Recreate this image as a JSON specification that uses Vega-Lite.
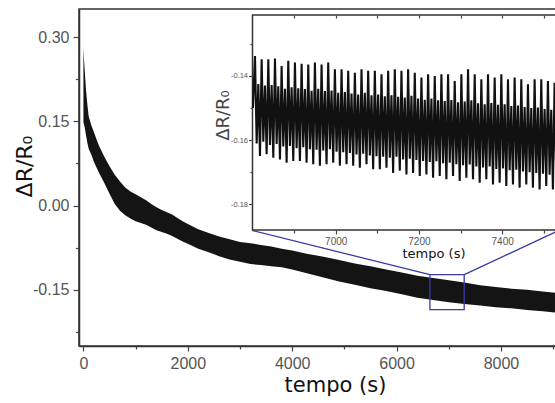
{
"$schema":"https://vega.github.io/schema/vega-lite/v6.json",
"width":477,"height":337,
"autosize":{"type":"none"},
"padding":{"left":79,"top":9,"right":0,"bottom":57},
"background":"white",
"config":{
 "view":{"stroke":"#333","strokeWidth":1.5},
 "axis":{"grid":false,"domainColor":"#333","domainWidth":1.5,"tickColor":"#444","tickWidth":1.2,"labelFont":"Liberation Sans","labelColor":"#555","titleFont":"DejaVu Sans","titleFontWeight":"normal","titleColor":"#111"}
},
"datasets":{
 "main":[
  {"t":0,"hi":0.282,"lo":0.148},{"t":10,"hi":0.262,"lo":0.145},{"t":25,"hi":0.240,"lo":0.139},{"t":50,"hi":0.205,"lo":0.125},{"t":75,"hi":0.180,"lo":0.112},{"t":100,"hi":0.159,"lo":0.101},{"t":150,"hi":0.143,"lo":0.091},{"t":200,"hi":0.131,"lo":0.078},{"t":250,"hi":0.118,"lo":0.068},{"t":300,"hi":0.106,"lo":0.058},{"t":400,"hi":0.087,"lo":0.040},{"t":500,"hi":0.070,"lo":0.021},{"t":600,"hi":0.055,"lo":0.003},{"t":700,"hi":0.043,"lo":-0.009},{"t":800,"hi":0.032,"lo":-0.017},{"t":900,"hi":0.025,"lo":-0.023},{"t":1000,"hi":0.020,"lo":-0.028},{"t":1100,"hi":0.015,"lo":-0.031},{"t":1200,"hi":0.0095,"lo":-0.034},{"t":1300,"hi":0.003,"lo":-0.039},{"t":1400,"hi":-0.003,"lo":-0.044},{"t":1500,"hi":-0.008,"lo":-0.047},{"t":1600,"hi":-0.012,"lo":-0.050},{"t":1700,"hi":-0.016,"lo":-0.054},{"t":1800,"hi":-0.022,"lo":-0.059},{"t":1900,"hi":-0.028,"lo":-0.064},{"t":2000,"hi":-0.033,"lo":-0.068},{"t":2200,"hi":-0.042,"lo":-0.077},{"t":2400,"hi":-0.049,"lo":-0.083},{"t":2600,"hi":-0.055,"lo":-0.090},{"t":2800,"hi":-0.060,"lo":-0.096},{"t":3000,"hi":-0.065,"lo":-0.100},{"t":3200,"hi":-0.067,"lo":-0.104},{"t":3400,"hi":-0.070,"lo":-0.106},{"t":3600,"hi":-0.073,"lo":-0.108},{"t":3800,"hi":-0.077,"lo":-0.110},{"t":4000,"hi":-0.080,"lo":-0.114},{"t":4300,"hi":-0.086,"lo":-0.121},{"t":4600,"hi":-0.091,"lo":-0.128},{"t":4900,"hi":-0.097,"lo":-0.135},{"t":5200,"hi":-0.103,"lo":-0.141},{"t":5500,"hi":-0.108,"lo":-0.147},{"t":5800,"hi":-0.114,"lo":-0.152},{"t":6100,"hi":-0.119,"lo":-0.158},{"t":6400,"hi":-0.125,"lo":-0.164},{"t":6700,"hi":-0.129,"lo":-0.168},{"t":7000,"hi":-0.133,"lo":-0.172},{"t":7300,"hi":-0.137,"lo":-0.175},{"t":7600,"hi":-0.142,"lo":-0.178},{"t":7900,"hi":-0.145,"lo":-0.181},{"t":8200,"hi":-0.148,"lo":-0.183},{"t":8500,"hi":-0.150,"lo":-0.186},{"t":8800,"hi":-0.153,"lo":-0.188},{"t":9100,"hi":-0.156,"lo":-0.191}
 ],
 "zoombox":[{"t1":6639,"t2":7296,"v1":-0.1229,"v2":-0.1853}],
 "connectors":[{"t1":6639,"v1":-0.1229,"t2":3240,"v2":-0.0445},{"t1":7296,"v1":-0.1229,"t2":9108,"v2":-0.0445}],
 "frame":[{"t1":6800,"t2":7800,"v1":-0.188,"v2":-0.121}],
 "inset":[
  {"t":6801,"v":-0.1500},
  {"t":6806,"v":-0.1338},{"t":6810,"v":-0.1610},{"t":6814,"v":-0.1425},{"t":6818,"v":-0.1649},
  {"t":6822,"v":-0.1348},{"t":6826,"v":-0.1605},{"t":6830,"v":-0.1430},{"t":6834,"v":-0.1644},
  {"t":6838,"v":-0.1348},{"t":6842,"v":-0.1615},{"t":6846,"v":-0.1428},{"t":6850,"v":-0.1655},
  {"t":6854,"v":-0.1346},{"t":6858,"v":-0.1612},{"t":6862,"v":-0.1432},{"t":6866,"v":-0.1660},
  {"t":6870,"v":-0.1369},{"t":6874,"v":-0.1620},{"t":6878,"v":-0.1440},{"t":6882,"v":-0.1670},
  {"t":6886,"v":-0.1353},{"t":6890,"v":-0.1618},{"t":6894,"v":-0.1435},{"t":6898,"v":-0.1665},
  {"t":6902,"v":-0.1358},{"t":6906,"v":-0.1625},{"t":6910,"v":-0.1438},{"t":6914,"v":-0.1665},
  {"t":6918,"v":-0.1362},{"t":6922,"v":-0.1622},{"t":6926,"v":-0.1441},{"t":6930,"v":-0.1670},
  {"t":6934,"v":-0.1364},{"t":6938,"v":-0.1628},{"t":6942,"v":-0.1446},{"t":6946,"v":-0.1675},
  {"t":6950,"v":-0.1358},{"t":6954,"v":-0.1630},{"t":6958,"v":-0.1440},{"t":6962,"v":-0.1680},
  {"t":6966,"v":-0.1364},{"t":6970,"v":-0.1632},{"t":6974,"v":-0.1447},{"t":6978,"v":-0.1675},
  {"t":6982,"v":-0.1358},{"t":6986,"v":-0.1628},{"t":6990,"v":-0.1445},{"t":6994,"v":-0.1670},
  {"t":6998,"v":-0.1379},{"t":7002,"v":-0.1636},{"t":7006,"v":-0.1452},{"t":7010,"v":-0.1680},
  {"t":7014,"v":-0.1379},{"t":7018,"v":-0.1638},{"t":7022,"v":-0.1450},{"t":7026,"v":-0.1675},
  {"t":7030,"v":-0.1384},{"t":7034,"v":-0.1640},{"t":7038,"v":-0.1455},{"t":7042,"v":-0.1680},
  {"t":7046,"v":-0.1390},{"t":7050,"v":-0.1645},{"t":7054,"v":-0.1458},{"t":7058,"v":-0.1686},
  {"t":7062,"v":-0.1379},{"t":7066,"v":-0.1642},{"t":7070,"v":-0.1452},{"t":7074,"v":-0.1675},
  {"t":7078,"v":-0.1384},{"t":7082,"v":-0.1648},{"t":7086,"v":-0.1460},{"t":7090,"v":-0.1691},
  {"t":7094,"v":-0.1384},{"t":7098,"v":-0.1650},{"t":7102,"v":-0.1458},{"t":7106,"v":-0.1691},
  {"t":7110,"v":-0.1395},{"t":7114,"v":-0.1652},{"t":7118,"v":-0.1463},{"t":7122,"v":-0.1686},
  {"t":7126,"v":-0.1384},{"t":7130,"v":-0.1655},{"t":7134,"v":-0.1460},{"t":7138,"v":-0.1702},
  {"t":7142,"v":-0.1379},{"t":7146,"v":-0.1652},{"t":7150,"v":-0.1465},{"t":7154,"v":-0.1695},
  {"t":7158,"v":-0.1384},{"t":7162,"v":-0.1660},{"t":7166,"v":-0.1467},{"t":7170,"v":-0.1707},
  {"t":7174,"v":-0.1379},{"t":7178,"v":-0.1658},{"t":7182,"v":-0.1462},{"t":7186,"v":-0.1702},
  {"t":7190,"v":-0.1390},{"t":7194,"v":-0.1662},{"t":7198,"v":-0.1470},{"t":7202,"v":-0.1712},
  {"t":7206,"v":-0.1405},{"t":7210,"v":-0.1665},{"t":7214,"v":-0.1474},{"t":7218,"v":-0.1707},
  {"t":7222,"v":-0.1395},{"t":7226,"v":-0.1668},{"t":7230,"v":-0.1470},{"t":7234,"v":-0.1717},
  {"t":7238,"v":-0.1400},{"t":7242,"v":-0.1666},{"t":7246,"v":-0.1476},{"t":7250,"v":-0.1712},
  {"t":7254,"v":-0.1395},{"t":7258,"v":-0.1672},{"t":7262,"v":-0.1478},{"t":7266,"v":-0.1722},
  {"t":7270,"v":-0.1395},{"t":7274,"v":-0.1670},{"t":7278,"v":-0.1475},{"t":7282,"v":-0.1712},
  {"t":7286,"v":-0.1416},{"t":7290,"v":-0.1675},{"t":7294,"v":-0.1482},{"t":7298,"v":-0.1727},
  {"t":7302,"v":-0.1395},{"t":7306,"v":-0.1678},{"t":7310,"v":-0.1480},{"t":7314,"v":-0.1717},
  {"t":7318,"v":-0.1379},{"t":7322,"v":-0.1676},{"t":7326,"v":-0.1476},{"t":7330,"v":-0.1722},
  {"t":7334,"v":-0.1395},{"t":7338,"v":-0.1682},{"t":7342,"v":-0.1485},{"t":7346,"v":-0.1733},
  {"t":7350,"v":-0.1410},{"t":7354,"v":-0.1685},{"t":7358,"v":-0.1488},{"t":7362,"v":-0.1722},
  {"t":7366,"v":-0.1395},{"t":7370,"v":-0.1682},{"t":7374,"v":-0.1484},{"t":7378,"v":-0.1738},
  {"t":7382,"v":-0.1405},{"t":7386,"v":-0.1690},{"t":7390,"v":-0.1490},{"t":7394,"v":-0.1733},
  {"t":7398,"v":-0.1395},{"t":7402,"v":-0.1688},{"t":7406,"v":-0.1488},{"t":7410,"v":-0.1743},
  {"t":7414,"v":-0.1410},{"t":7418,"v":-0.1694},{"t":7422,"v":-0.1494},{"t":7426,"v":-0.1738},
  {"t":7430,"v":-0.1405},{"t":7434,"v":-0.1692},{"t":7438,"v":-0.1492},{"t":7442,"v":-0.1748},
  {"t":7446,"v":-0.1410},{"t":7450,"v":-0.1698},{"t":7454,"v":-0.1497},{"t":7458,"v":-0.1738},
  {"t":7462,"v":-0.1426},{"t":7466,"v":-0.1700},{"t":7470,"v":-0.1500},{"t":7474,"v":-0.1748},
  {"t":7478,"v":-0.1410},{"t":7482,"v":-0.1702},{"t":7486,"v":-0.1498},{"t":7490,"v":-0.1754},
  {"t":7494,"v":-0.1410},{"t":7498,"v":-0.1705},{"t":7502,"v":-0.1503},{"t":7506,"v":-0.1743},
  {"t":7510,"v":-0.1416},{"t":7514,"v":-0.1708},{"t":7518,"v":-0.1505},{"t":7522,"v":-0.1754},
  {"t":7526,"v":-0.1421},{"t":7530,"v":-0.1712},{"t":7534,"v":-0.1510},{"t":7538,"v":-0.1748}
 ]
},
"layer":[
 {"layer":[
  {"data":{"name":"main"},"mark":{"type":"area","color":"#141414"},
   "encoding":{
    "x":{"field":"t","type":"quantitative","scale":{"domain":[-85,9055],"nice":false,"zero":false},
     "axis":{"orient":"bottom","values":[0,1000,2000,3000,4000,5000,6000,7000,8000,9000],
      "labelExpr":"datum.value % 2000 == 0 ? format(datum.value, 'd') : ''",
      "tickSize":{"condition":{"test":"datum.value % 2000 == 0","value":5},"value":3},
      "labelFontSize":16,"labelPadding":4,"title":"tempo (s)","titleFontSize":21,"titleX":256,"titlePadding":3}},
    "y":{"field":"hi","type":"quantitative","scale":{"domain":[-0.25,0.35],"nice":false,"zero":false},
     "axis":{"orient":"left","values":[-0.225,-0.15,-0.075,0,0.075,0.15,0.225,0.3],
      "labelExpr":"indexof([-0.15,0,0.15,0.3], datum.value) >= 0 ? replace(format(datum.value, '.2f'), '\u2212', '-') : ''",
      "tickSize":{"condition":{"test":"indexof([-0.15,0,0.15,0.3], datum.value) >= 0","value":6},"value":3.5},
      "labelFontSize":16,"labelPadding":4,"title":"ΔR/R₀","titleFontSize":22,"titleAngle":270,"titleBaseline":"alphabetic","titleX":-48,"titleY":157}},
    "y2":{"field":"lo"}
   }},
  {"data":{"name":"zoombox"},"mark":{"type":"rect","fill":"white","fillOpacity":0,"stroke":"#3a3aa8","strokeWidth":1.3},
   "encoding":{"x":{"field":"t1","type":"quantitative"},"x2":{"field":"t2"},"y":{"field":"v1","type":"quantitative"},"y2":{"field":"v2"}}},
  {"data":{"name":"connectors"},"mark":{"type":"rule","color":"#3a3aa8","strokeWidth":1.3},
   "encoding":{"x":{"field":"t1","type":"quantitative"},"x2":{"field":"t2"},"y":{"field":"v1","type":"quantitative"},"y2":{"field":"v2"}}}
 ]},
 {"layer":[
  {"data":{"name":"frame"},"mark":{"type":"rect","fill":"white","stroke":"#333","strokeWidth":1.5},
   "encoding":{
    "x":{"field":"t1","type":"quantitative","scale":{"domain":[6800,7670],"range":[173.5,535.5],"nice":false,"zero":false},
     "axis":{"orient":"top","offset":-6,"values":[6900,7000,7100,7200,7300,7400,7500],"labels":false,"domain":false,"tickSize":-3,"title":null,"zindex":1}},
    "x2":{"field":"t2"},
    "y":{"field":"v1","type":"quantitative","scale":{"domain":[-0.188,-0.121],"range":[221,6],"nice":false,"zero":false},
     "axis":{"orient":"left","offset":-173.5,"values":[-0.18,-0.17,-0.16,-0.15,-0.14,-0.13],
      "labelExpr":"indexof([-0.18,-0.16,-0.14], datum.value) >= 0 ? replace(format(datum.value, '.2f'), '\u2212', '-') : ''",
      "tickSize":{"condition":{"test":"indexof([-0.18,-0.16,-0.14], datum.value) >= 0","value":4},"value":2.5},
      "labelFontSize":7.5,"labelPadding":1,"labelColor":"#555","domain":false,"title":"ΔR/R₀","titleFontSize":18,"titleAngle":270,"titleBaseline":"alphabetic","titleX":-24,"titleY":106,"titleColor":"#444","zindex":1}},
    "y2":{"field":"v2"}
   }},
  {"data":{"name":"inset"},"mark":{"type":"line","color":"#111","strokeWidth":2.1},
   "encoding":{
    "x":{"field":"t","type":"quantitative",
     "axis":{"orient":"bottom","offset":-116,"values":[6900,7000,7100,7200,7300,7400,7500],
      "labelExpr":"datum.value % 200 == 0 ? format(datum.value, 'd') : ''",
      "tickSize":{"condition":{"test":"datum.value % 200 == 0","value":4},"value":3},
      "labelFontSize":10,"labelPadding":2,"labelColor":"#555","domain":false,"title":"tempo (s)","titleFontSize":13,"titlePadding":1,"zindex":1}},
    "y":{"field":"v","type":"quantitative",
     "axis":{"orient":"left","offset":-173.5,"values":[-0.18,-0.17,-0.16,-0.15,-0.14,-0.13],
      "labelExpr":"indexof([-0.18,-0.16,-0.14], datum.value) >= 0 ? replace(format(datum.value, '.2f'), '\u2212', '-') : ''",
      "tickSize":{"condition":{"test":"indexof([-0.18,-0.16,-0.14], datum.value) >= 0","value":4},"value":2.5},
      "labelFontSize":7.5,"labelPadding":1,"labelColor":"#555","domain":false,"title":"ΔR/R₀","titleFontSize":18,"titleAngle":270,"titleBaseline":"alphabetic","titleX":-24,"titleY":106,"titleColor":"#444","zindex":1}}
   }}
 ]}
],
"resolve":{"scale":{"x":"independent","y":"independent"}}
}
